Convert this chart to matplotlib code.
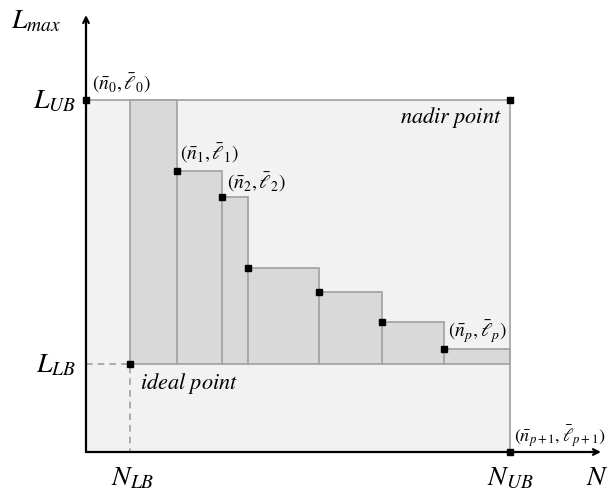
import matplotlib.pyplot as plt

plt.rcParams['mathtext.fontset'] = 'stix'

# staircase of nondominated points (n, l), origin at the axes crossing
n_pts = [0, 91, 136, 162, 233, 296, 358, 424]
l_pts = [352, 281, 255, 184, 160, 130, 103, 0]
N_LB, N_UB = 44, 424
L_LB, L_UB = 88, 352

# bar edges of the dominated region: from N_LB to N_UB
bar_left = [N_LB] + n_pts[1:-1]
bar_right = n_pts[1:]
bar_top = l_pts[:-1]

light = '#f2f2f2'
dark = '#d9d9d9'
edge = '#a6a6a6'

fig = plt.figure(figsize=(6.13, 4.93), dpi=100)
ax = fig.add_axes([0, 0, 1, 1])
ax.set_xlim(-86, 527)
ax.set_ylim(-41, 452)
ax.axis('off')

# light box between the axes and the nadir point
ax.fill_between([0, N_UB], 0, L_UB, color=light, lw=0, zorder=1)
ax.plot([0, N_UB, N_UB], [L_UB, L_UB, 0], color=edge, lw=1.3, zorder=3)

# dark staircase above the lower bound
widths = [r - l for l, r in zip(bar_left, bar_right)]
heights = [t - L_LB for t in bar_top]
ax.bar(bar_left, heights, width=widths, bottom=L_LB, align='edge',
       color=dark, edgecolor=edge, lw=1.3, zorder=2)

# dashed guides to the ideal point
ax.plot([0, N_LB, N_LB], [L_LB, L_LB, 0], color='#a0a0a0', lw=1.2,
        ls=(0, (4, 3)), zorder=2)

# axes with arrows
ax.annotate('', xy=(0, 437), xytext=(0, 0),
            arrowprops=dict(arrowstyle='->', color='black', lw=1.6,
                            shrinkA=0, shrinkB=0), zorder=5)
ax.annotate('', xy=(515, 0), xytext=(0, 0),
            arrowprops=dict(arrowstyle='->', color='black', lw=1.6,
                            shrinkA=0, shrinkB=0), zorder=5)

# points
ax.plot(n_pts, l_pts, 's', color='black', ms=5, zorder=6)
ax.plot([N_UB, N_LB], [L_UB, L_LB], 's', color='black', ms=5, zorder=6)

fs = 20
ax.text(-75, 432, r'$L_{max}$', fontsize=fs, ha='left', va='center')
ax.text(-10, L_UB, r'$L_{UB}$', fontsize=fs, ha='right', va='center')
ax.text(-10, L_LB, r'$L_{LB}$', fontsize=fs, ha='right', va='center')
ax.text(N_LB + 3, -25, r'$N_{LB}$', fontsize=fs, ha='center', va='center')
ax.text(N_UB, -25, r'$N_{UB}$', fontsize=fs, ha='center', va='center')
ax.text(523, -25, r'$N$', fontsize=fs, ha='right', va='center')

ps = 14
ax.text(6, 369, r'$(\bar{n}_0, \bar{\ell}_0)$', fontsize=ps, va='center')
ax.text(94, 299, r'$(\bar{n}_1, \bar{\ell}_1)$', fontsize=ps, va='center')
ax.text(141, 270, r'$(\bar{n}_2, \bar{\ell}_2)$', fontsize=ps, va='center')
ax.text(362, 120, r'$(\bar{n}_p, \bar{\ell}_p)$', fontsize=ps, va='center')
ax.text(428, 16, r'$(\bar{n}_{p+1}, \bar{\ell}_{p+1})$', fontsize=13, va='center')

ts = 16
ax.text(N_UB - 8, 334, r'$nadir\ point$', fontsize=ts, ha='right', va='center')
ax.text(N_LB + 10, 69, r'$ideal\ point$', fontsize=ts, ha='left', va='center')

fig.savefig('out.png', dpi=100)
